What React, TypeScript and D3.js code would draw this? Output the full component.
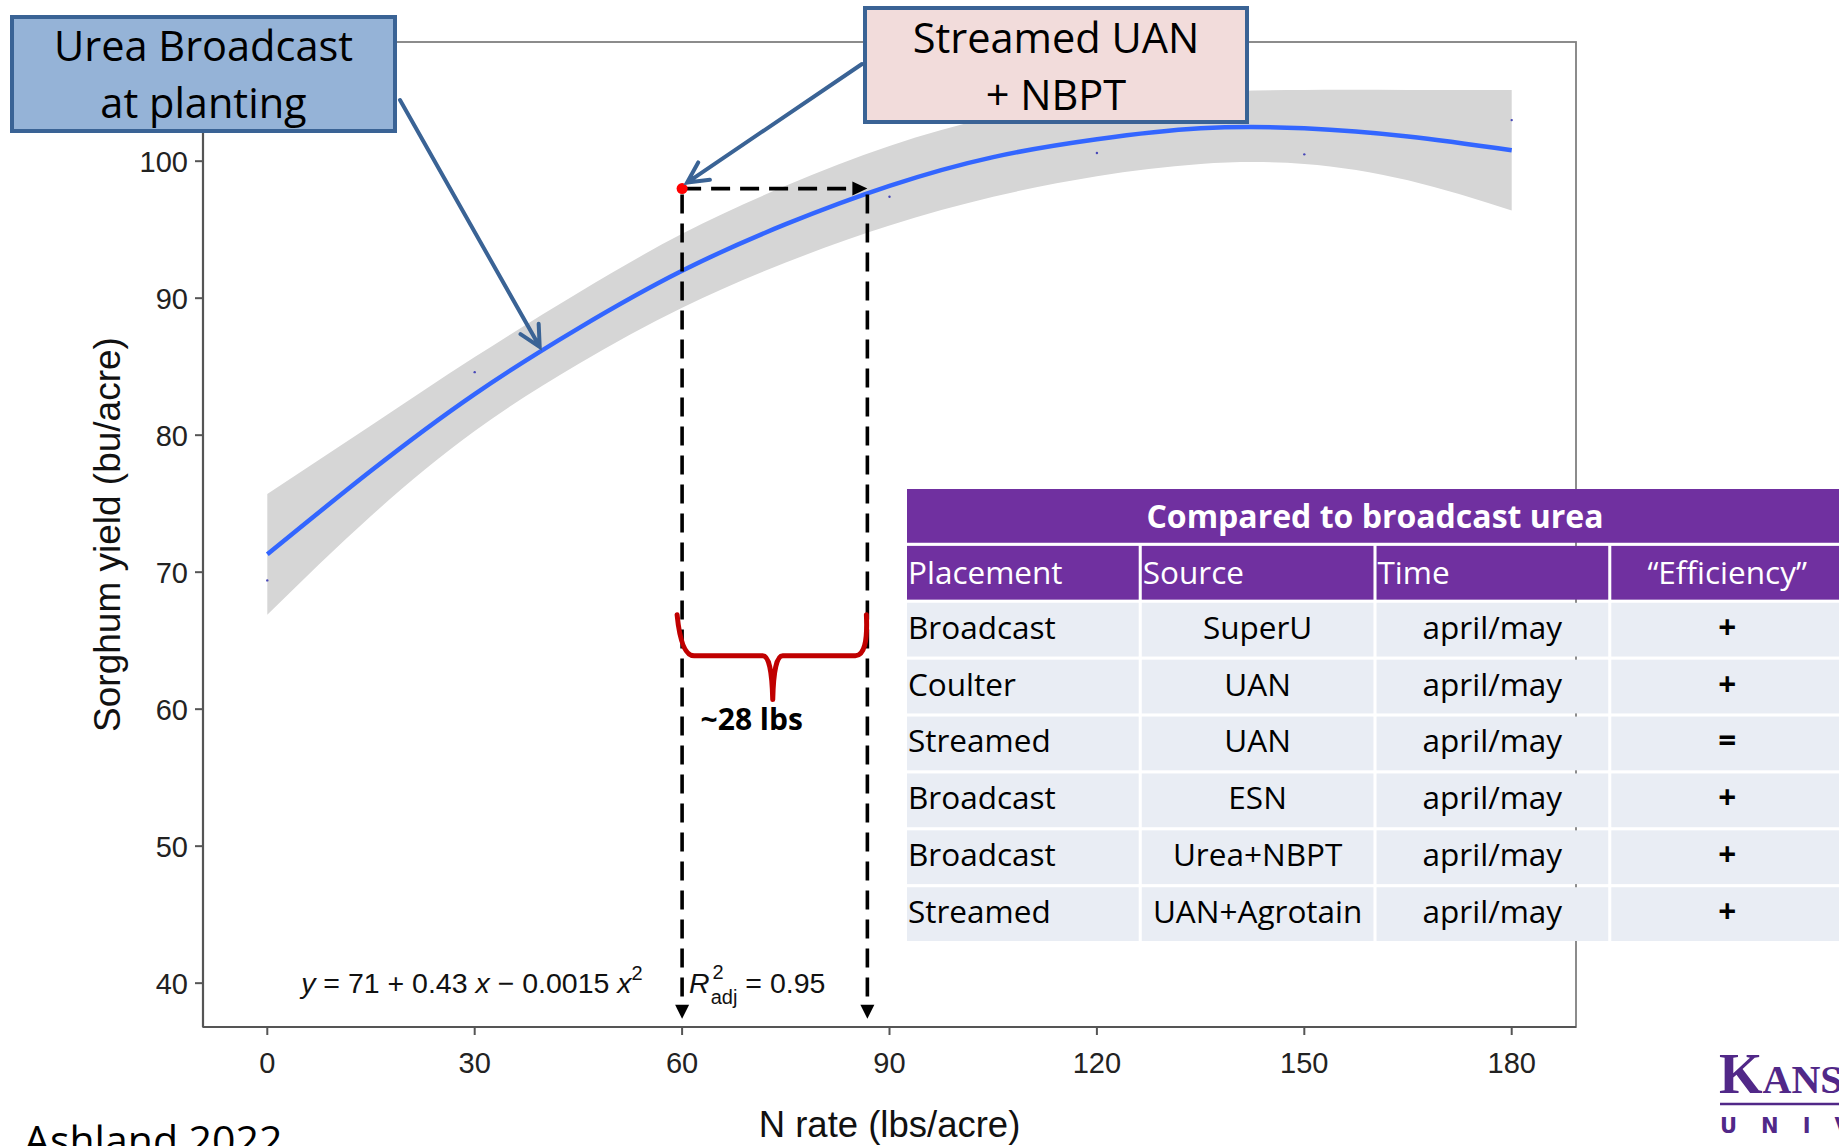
import * as d3 from "d3";

// fitted quadratic response with its confidence band
const nRate = [0, 15, 30, 45, 60, 75, 90, 105, 120, 135, 150, 165, 180];
const fitYield = [71.3, 77.4, 83.0, 87.8, 92.0, 95.4, 98.2, 100.3, 101.6, 102.4, 102.4, 101.8, 100.8];
const ciUpper = [75.7, 80.7, 85.7, 90.4, 94.7, 98.2, 101.1, 103.2, 104.3, 105.0, 105.2, 105.2, 105.2];
const ciLower = [66.9, 74.1, 80.3, 85.2, 89.3, 92.6, 95.3, 97.4, 98.9, 99.8, 99.8, 98.6, 96.4];

// treatment means (tiny points)
const obsRate = [0, 30, 90, 120, 150, 180];
const obsYield = [69.4, 84.6, 97.4, 100.6, 100.5, 103.0];

const xTicks = [0, 30, 60, 90, 120, 150, 180];
const yTicks = [40, 50, 60, 70, 80, 90, 100];

// streamed UAN + NBPT point and the equivalent broadcast rate
const uanRate = 60;
const uanYield = 98.0;
const equivRate = 86.8;

const tableTitle = "Compared to broadcast urea";
const tableHeader = ["Placement", "Source", "Time", "\u201CEfficiency\u201D"];
const placement = ["Broadcast", "Coulter", "Streamed", "Broadcast", "Broadcast", "Streamed"];
const source = ["SuperU", "UAN", "UAN", "ESN", "Urea+NBPT", "UAN+Agrotain"];
const timing = ["april/may", "april/may", "april/may", "april/may", "april/may", "april/may"];
const efficiency = ["+", "+", "=", "+", "+", "+"];

const W = 1839;
const H = 1146;
const panel = { left: 203, right: 1576, top: 42, bottom: 1027 };

const PLOT_FONT = "'Liberation Sans', Arial, sans-serif";
const SLIDE_FONT = "'Open Sans', sans-serif";
const BOX_STROKE = "#3A6395";

function openArrow(x1: number, y1: number, x2: number, y2: number) {
  const a = Math.atan2(y1 - y2, x1 - x2);
  const len = 23;
  const spread = (27 * Math.PI) / 180;
  const p1 = [x2 + len * Math.cos(a + spread), y2 + len * Math.sin(a + spread)];
  const p2 = [x2 + len * Math.cos(a - spread), y2 + len * Math.sin(a - spread)];
  return `M${x1},${y1}L${x2},${y2}M${p1[0]},${p1[1]}L${x2},${y2}L${p2[0]},${p2[1]}`;
}

export default function App() {
  const x = d3.scaleLinear().domain([-9.3, 189.3]).range([panel.left, panel.right]);
  const y = d3.scaleLinear().domain([36.8, 108.7]).range([panel.bottom, panel.top]);

  const idx = d3.range(nRate.length);
  const band = d3
    .area<number>()
    .x((i) => x(nRate[i]))
    .y0((i) => y(ciLower[i]))
    .y1((i) => y(ciUpper[i]))
    .curve(d3.curveNatural);
  const fitLine = d3
    .line<number>()
    .x((i) => x(nRate[i]))
    .y((i) => y(fitYield[i]))
    .curve(d3.curveNatural);

  // dashed guide lines
  const dotX = x(uanRate);
  const dotY = y(uanYield);
  const eqX = x(equivRate);
  const tipY = y(37.4);

  // brace between the two rates
  const bTop = y(66.9);
  const bMid = y(63.9);
  const bTip = y(60.7);
  const bl = dotX;
  const br = eqX;
  const bm = (bl + br) / 2 - 2;
  const brace =
    `M${bl - 5},${bTop}Q${bl - 1},${bMid} ${bl + 12},${bMid}L${bm - 10},${bMid}` +
    `Q${bm - 1},${bMid} ${bm},${bTip}Q${bm + 1},${bMid} ${bm + 10},${bMid}` +
    `L${br - 12},${bMid}Q${br + 1},${bMid} ${br - 1},${bTop}`;

  // table layout
  const colX = d3.scaleBand<number>().domain([0, 1, 2, 3]).range([907, 1843]).paddingInner(0.013);
  const rowY = d3.scaleBand<number>().domain(d3.range(8)).range([489, 941]).paddingInner(0.055);
  const rows = d3.range(placement.length);

  return (
    <svg
      width={W}
      height={H}
      style={{ position: "absolute", left: 0, top: 0, background: "#fff", display: "block" }}
    >
      {/* plot frame */}
      <rect
        x={panel.left}
        y={panel.top}
        width={panel.right - panel.left}
        height={panel.bottom - panel.top}
        fill="none"
        stroke="#808080"
        strokeWidth={1.8}
      />
      <line x1={panel.left} x2={panel.left} y1={panel.top} y2={panel.bottom} stroke="#555" strokeWidth={2.2} />
      <line x1={panel.left} x2={panel.right} y1={panel.bottom} y2={panel.bottom} stroke="#555" strokeWidth={2.2} />

      {/* confidence band, fit and points */}
      <path d={band(idx) ?? ""} fill="#D6D6D6" />
      <path d={fitLine(idx) ?? ""} fill="none" stroke="#3366FF" strokeWidth={4.5} />
      {obsRate.map((r, i) => (
        <circle key={r} cx={x(r)} cy={y(obsYield[i])} r={1.2} fill="#4848B8" />
      ))}

      {/* axes */}
      {yTicks.map((t) => (
        <g key={t}>
          <line x1={panel.left - 8} x2={panel.left} y1={y(t)} y2={y(t)} stroke="#555" strokeWidth={2} />
          <text
            x={panel.left - 15}
            y={y(t)}
            dy="0.36em"
            textAnchor="end"
            fontFamily={PLOT_FONT}
            fontSize={29}
            fill="#222"
          >
            {t}
          </text>
        </g>
      ))}
      {xTicks.map((t) => (
        <g key={t}>
          <line x1={x(t)} x2={x(t)} y1={panel.bottom} y2={panel.bottom + 8} stroke="#555" strokeWidth={2} />
          <text x={x(t)} y={panel.bottom + 46} textAnchor="middle" fontFamily={PLOT_FONT} fontSize={29} fill="#222">
            {t}
          </text>
        </g>
      ))}
      <text
        transform={`translate(${120},${(panel.top + panel.bottom) / 2}) rotate(-90)`}
        textAnchor="middle"
        fontFamily={PLOT_FONT}
        fontSize={37}
        fill="#111"
      >
        Sorghum yield (bu/acre)
      </text>
      <text
        x={(panel.left + panel.right) / 2}
        y={1137}
        textAnchor="middle"
        fontFamily={PLOT_FONT}
        fontSize={36.5}
        fill="#111"
      >
        N rate (lbs/acre)
      </text>

      {/* equation */}
      <text x={x(4.9)} y={y(39.25)} fontFamily={PLOT_FONT} fontSize={28.5} fill="#111">
        <tspan fontStyle="italic">y</tspan>
        <tspan>{" = 71 + 0.43 "}</tspan>
        <tspan fontStyle="italic">x</tspan>
        <tspan>{" \u2212 0.0015 "}</tspan>
        <tspan fontStyle="italic">x</tspan>
        <tspan dy={-13} fontSize={20}>2</tspan>
      </text>
      <text x={x(61)} y={y(39.25)} fontFamily={PLOT_FONT} fontSize={28.5} fill="#111">
        <tspan fontStyle="italic">R</tspan>
        <tspan dx={3} dy={-14} fontSize={20}>2</tspan>
        <tspan dx={-13} dy={25} fontSize={20}>adj</tspan>
        <tspan dy={-11}>{" = 0.95"}</tspan>
      </text>

      {/* dashed guides */}
      <line x1={dotX} x2={eqX - 15} y1={dotY} y2={dotY} stroke="#000" strokeWidth={3.6} strokeDasharray="19 10" />
      <path d={`M${eqX},${dotY}L${eqX - 15},${dotY - 7}L${eqX - 15},${dotY + 7}Z`} fill="#000" />
      {[dotX, eqX].map((lx) => (
        <g key={lx}>
          <line x1={lx} x2={lx} y1={dotY + 6} y2={tipY - 14} stroke="#000" strokeWidth={3.6} strokeDasharray="19 10" />
          <path d={`M${lx},${tipY}L${lx - 7},${tipY - 14}L${lx + 7},${tipY - 14}Z`} fill="#000" />
        </g>
      ))}
      <circle cx={dotX} cy={dotY} r={5.5} fill="#FF0000" />

      {/* brace */}
      <path d={brace} fill="none" stroke="#C00000" strokeWidth={5} strokeLinejoin="round" strokeLinecap="round" />
      <text x={(dotX + eqX) / 2 - 23} y={730} textAnchor="middle" fontFamily={SLIDE_FONT} fontWeight={700} fontSize={30}>
        ~28 lbs
      </text>

      {/* table */}
      <rect x={907} y={rowY(0)} width={936} height={rowY.bandwidth()} fill="#7030A0" />
      <text
        x={(907 + 1843) / 2}
        y={(rowY(0) ?? 0) + rowY.bandwidth() / 2 + 12}
        textAnchor="middle"
        fontFamily={SLIDE_FONT}
        fontWeight={700}
        fontSize={32}
        fill="#fff"
      >
        {tableTitle}
      </text>
      {tableHeader.map((h, c) => (
        <g key={h}>
          <rect x={colX(c)} y={rowY(1)} width={colX.bandwidth()} height={rowY.bandwidth()} fill="#7030A0" />
          <text
            x={c === 3 ? (colX(c) ?? 0) + colX.bandwidth() / 2 : (colX(c) ?? 0) + 1}
            y={(rowY(1) ?? 0) + rowY.bandwidth() / 2 + 11}
            textAnchor={c === 3 ? "middle" : "start"}
            fontFamily={SLIDE_FONT}
            fontSize={31.5}
            fill="#fff"
          >
            {h}
          </text>
        </g>
      ))}
      {rows.map((r) => {
        const cells = [placement[r], source[r], timing[r], efficiency[r]];
        const ry = rowY(r + 2) ?? 0;
        return (
          <g key={r}>
            {cells.map((v, c) => (
              <g key={c}>
                <rect x={colX(c)} y={ry} width={colX.bandwidth()} height={rowY.bandwidth()} fill="#E9EDF4" />
                <text
                  x={c === 0 ? (colX(c) ?? 0) + 1 : (colX(c) ?? 0) + colX.bandwidth() / 2}
                  y={ry + rowY.bandwidth() / 2 + 9}
                  textAnchor={c === 0 ? "start" : "middle"}
                  fontFamily={SLIDE_FONT}
                  fontWeight={c === 3 ? 700 : 400}
                  fontSize={31.5}
                  fill="#000"
                >
                  {v}
                </text>
              </g>
            ))}
          </g>
        );
      })}

      {/* callout boxes */}
      <path d={openArrow(400, 100, x(39.4), y(86.45))} fill="none" stroke={BOX_STROKE} strokeWidth={4} strokeLinecap="round" />
      <path d={openArrow(862, 64, dotX + 5, dotY - 6)} fill="none" stroke={BOX_STROKE} strokeWidth={4} strokeLinecap="round" />
      <rect x={12} y={17} width={383} height={114} fill="#95B3D7" stroke={BOX_STROKE} strokeWidth={4} />
      <text textAnchor="middle" fontFamily={SLIDE_FONT} fontSize={41.5} fill="#000">
        <tspan x={203.5} y={61}>Urea Broadcast</tspan>
        <tspan x={203.5} y={118}>at planting</tspan>
      </text>
      <rect x={865} y={8} width={382} height={114} fill="#F2DCDB" stroke={BOX_STROKE} strokeWidth={4} />
      <text textAnchor="middle" fontFamily={SLIDE_FONT} fontSize={41.5} fill="#000">
        <tspan x={1056} y={53}>Streamed UAN</tspan>
        <tspan x={1056} y={110}>+ NBPT</tspan>
      </text>

      {/* site label */}
      <text x={24} y={1155} fontFamily={SLIDE_FONT} fontSize={41} fill="#000">
        Ashland 2022
      </text>

      {/* logo */}
      <text x={1719} y={1093} fontFamily="'Liberation Serif', serif" fontWeight={700} fill="#512888">
        <tspan fontSize={56}>K</tspan>
        <tspan fontSize={40}>ANSAS STATE</tspan>
      </text>
      <line x1={1720} x2={W} y1={1104} y2={1104} stroke="#512888" strokeWidth={2.5} />
      <text
        x={1720}
        y={1133}
        fontFamily="'DejaVu Sans', sans-serif"
        fontWeight={700}
        fontSize={21}
        letterSpacing={24}
        fill="#512888"
      >
        UNIVERSITY
      </text>
    </svg>
  );
}
